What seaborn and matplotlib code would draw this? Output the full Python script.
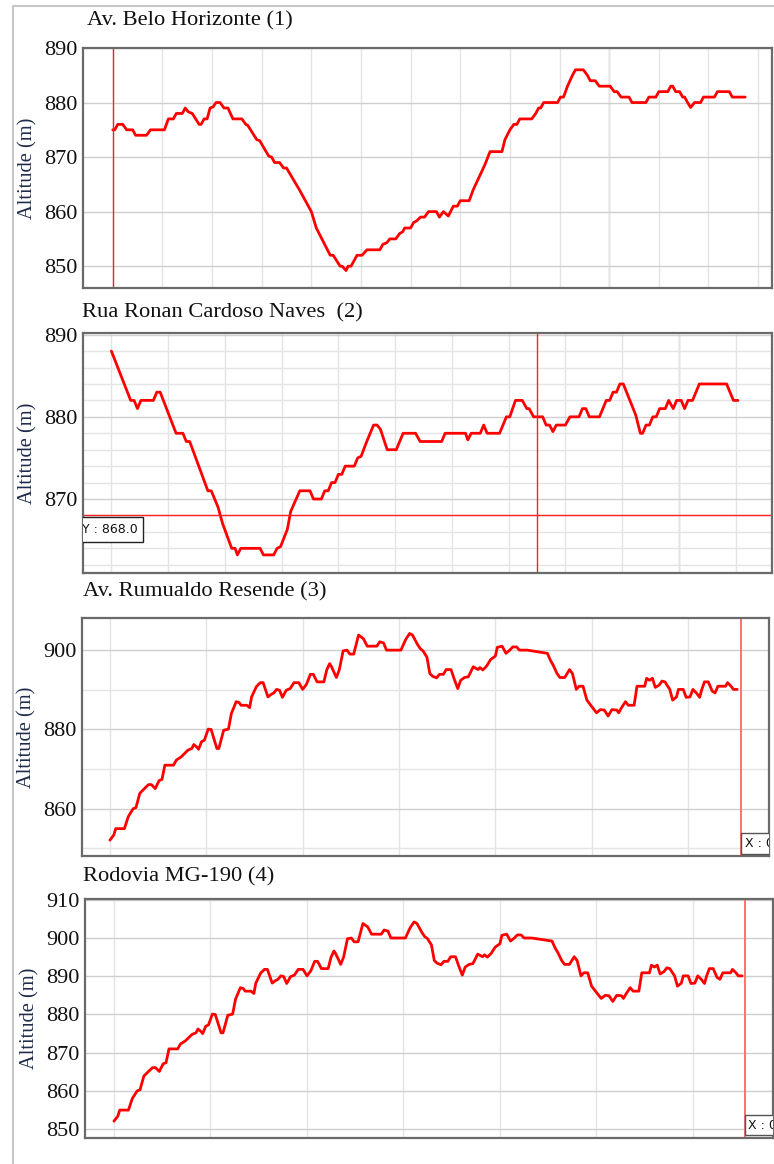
import numpy as np
import pandas as pd
import seaborn as sns
import matplotlib.pyplot as plt
from matplotlib.lines import Line2D
from matplotlib.ticker import MultipleLocator

# Perfil 1 - Av. Belo Horizonte (distancia, altitude)
dist_1 = [0, 2, 5, 10, 14, 20, 23, 34, 38, 52, 56, 61, 64, 70, 73, 76, 80, 87, 89, 92,
          95, 98, 101, 104, 108, 112, 116, 121, 130, 134, 136, 145, 148, 157, 160, 163,
          168, 172, 175, 188, 200, 205, 219, 222, 229, 231, 235, 237, 240, 246, 251,
          256, 269, 272, 276, 279, 285, 289, 292, 294, 300, 303, 306, 310, 314, 318,
          326, 329, 333, 338, 343, 347, 350, 359, 363, 372, 375, 380, 392, 395, 400,
          404, 407, 410, 422, 426, 429, 431, 434, 448, 451, 454, 458, 463, 466, 474,
          478, 481, 486, 490, 501, 505, 508, 512, 520, 523, 537, 540, 547, 550, 559,
          562, 564, 567, 571, 574, 576, 579, 582, 586, 592, 595, 606, 609, 621, 624, 637]
alt_1 = [875, 875, 876, 876, 875, 875, 874, 874, 875, 875, 877, 877, 878, 878, 879, 878.3,
         878, 876, 876, 877, 877, 879, 879.2, 880, 880, 879, 879, 877, 877, 876, 875.8,
         873.2, 873, 870.2, 870, 869, 869, 868, 868, 864, 860, 857, 852, 852, 850, 850,
         849.2, 850, 850, 852, 852, 853, 853, 854, 854.3, 855, 855, 856, 856.3, 857, 857,
         858, 858.3, 859, 859, 860, 860, 859, 860, 859.2, 861, 861, 862, 862, 864, 867.5,
         868.7, 871, 871, 873.2, 875, 876, 876, 877, 877, 878, 879, 879, 880, 880, 881,
         881, 883, 885, 886, 886, 885, 884, 884, 883, 883, 882, 882, 881, 881, 880, 880,
         881, 881, 882, 882, 883, 883, 882, 882, 881, 881, 880, 879.1, 880, 880, 881, 881,
         882, 882, 881, 881]

# Perfil 2 - Rua Ronan Cardoso Naves
dist_2 = [0, 17, 20, 23, 26, 37, 40, 43, 57, 63, 66, 69, 85, 88, 94, 98, 106, 109, 111,
          114, 131, 134, 143, 146, 149, 155, 158, 166, 175, 178, 185, 188, 191, 194, 197,
          200, 203, 206, 214, 217, 220, 225, 231, 234, 237, 243, 251, 257, 268, 272, 291,
          294, 312, 314, 317, 325, 328, 331, 342, 348, 351, 356, 362, 366, 368, 372, 380,
          383, 386, 389, 392, 400, 404, 412, 415, 418, 421, 430, 436, 439, 442, 445, 448,
          451, 462, 466, 468, 471, 474, 477, 480, 483, 488, 491, 495, 498, 502, 505, 508,
          512, 518, 542, 548, 552]
alt_2 = [888, 882, 882, 881, 882, 882, 883, 883, 878, 878, 877, 877, 871, 871, 869, 867,
         864, 864, 863.2, 864, 864, 863.2, 863.2, 864, 864.2, 866.3, 868.5, 871, 871, 870,
         870, 871, 871, 872, 872, 873, 873, 874, 874, 875, 875.2, 877, 879, 879, 878.5,
         876, 876, 878, 878, 877, 877, 878, 878, 877.2, 878, 878, 879, 878, 878, 880, 880,
         882, 882, 881, 881, 880, 880, 879, 879, 878.2, 879, 879, 880, 880, 881, 881, 880,
         880, 882, 882, 883, 883, 884, 884, 880.2, 878, 878, 879, 879, 880, 880, 881, 881,
         882, 881, 882, 882, 881, 882, 882, 884, 884, 882, 882]

# Perfis 3 e 4 - Av. Rumualdo Resende / Rodovia MG-190 (mesmo perfil)
dist_3 = [0, 4, 6, 15, 19, 24, 27, 31, 35, 40, 43, 47, 51, 54, 57, 66, 69, 74, 81, 85, 87,
          90, 92, 95, 98, 102, 105, 111, 113, 118, 123, 126, 131, 134, 136, 142, 145, 147,
          152, 156, 159, 164, 167, 170, 173, 176, 179, 183, 187, 191, 196, 200, 204, 208,
          211, 215, 222, 225, 228, 230, 235, 238, 242, 246, 249, 253, 258, 263, 267, 277,
          280, 284, 287, 302, 307, 311, 314, 319, 322, 325, 329, 332, 335, 339, 342, 346,
          349, 354, 357, 361, 364, 368, 372, 377, 382, 384, 387, 391, 395, 400, 402, 407,
          411, 415, 418, 422, 425, 433, 454, 457, 460, 464, 467, 472, 477, 480, 484, 487,
          491, 495, 499, 505, 509, 513, 517, 521, 526, 528, 531, 535, 538, 544, 547, 555,
          557, 560, 563, 566, 570, 573, 576, 581, 584, 588, 590, 595, 598, 602, 605, 609,
          612, 614, 617, 621, 625, 628, 631, 639, 641, 645, 647, 651]
alt_3 = [852.1, 853.4, 855, 855, 858, 860, 860.3, 863.9, 864.9, 866.1, 866.1, 865.1, 867.1,
         867.4, 871, 871, 872.3, 873.1, 874.8, 875.2, 876.2, 875.6, 875, 876.9, 877.3,
         880.1, 880, 875.2, 875.2, 879.8, 880.1, 884, 887, 886.8, 886.1, 886.1, 885.5,
         888.2, 890.8, 891.8, 891.8, 888.2, 888.8, 889.2, 890.1, 889.9, 888.1, 889.9, 890.3,
         891.8, 891.8, 890.1, 891.4, 893.9, 893.9, 892, 892, 895, 896.6, 895.8, 893.1, 895,
         899.8, 900, 899, 899, 903.8, 902.9, 901, 901, 902.1, 901.8, 900, 900, 902.7, 904.2,
         903.8, 901.5, 900.4, 899.8, 898.2, 894.1, 893.4, 893, 893.9, 893.9, 895.1, 895.1,
         892.9, 890.3, 892.4, 893.1, 893.3, 895.8, 895.1, 895.6, 895, 896, 897.6, 898.5,
         900.7, 901, 899.2, 900, 900.8, 900.8, 900, 900, 899.2, 897.5, 896.2, 894.1, 893.1,
         893.1, 895.1, 894.1, 890.1, 890.9, 890.9, 887.4, 886.1, 884.2, 885, 884.9, 883.4,
         885, 884.9, 884.2, 885.5, 887, 886.1, 886.1, 890.9, 890.9, 892.9, 892.4, 892.9,
         890.6, 891.2, 892.2, 892, 890.1, 887.4, 888.2, 890.1, 890.1, 888.1, 888.2, 890.1,
         889.1, 888.1, 889.9, 892, 892, 889.7, 889.2, 890.9, 890.9, 891.8, 890.8, 890.1,
         890.1]

titles = ["Av. Belo Horizonte (1)", "Rua Ronan Cardoso Naves  (2)",
          "Av. Rumualdo Resende (3)", "Rodovia MG-190 (4)"]

sns.set_style("white")
plt.rcParams["font.family"] = ["Liberation Serif", "DejaVu Serif"]

W, H = 774, 1164
fig = plt.figure(figsize=(W / 100, H / 100), dpi=100)


def px_axes(left, top, right, bottom):
    return fig.add_axes([left / W, 1 - bottom / H, (right - left) / W, (bottom - top) / H])


def style_axes(ax, xlim, ylim, yticks, ygrid, xgrid):
    ax.set_xlim(*xlim)
    ax.set_ylim(*ylim)
    ax.set_yticks(yticks)
    ax.set_xticks([])
    ax.xaxis.set_minor_locator(MultipleLocator(xgrid))
    ax.yaxis.set_minor_locator(MultipleLocator(ygrid))
    ax.grid(which="minor", color="#e4e4e4", linewidth=1.0)
    ax.grid(which="major", axis="y", color="#cfcfcf", linewidth=1.0)
    ax.set_axisbelow(True)
    ax.tick_params(axis="y", which="both", length=0, pad=4, labelsize=16,
                   labelcolor="#111111")
    ax.set_xlabel("")
    ax.set_ylabel("Altitude (m)", fontsize=14.8, color="#1e2b4a")
    ax.yaxis.set_label_coords(-0.066, 0.5)
    for sp in ax.spines.values():
        sp.set_color("#6a6a6a")
        sp.set_linewidth(1.6)


line_kw = dict(color="#ff0000", linewidth=2.0, estimator=None, sort=False)

# painel 1
ax1 = px_axes(83, 48, 772, 288)
sns.lineplot(x=dist_1, y=alt_1, ax=ax1, **line_kw)
style_axes(ax1, (-30, 664), (846, 890), [850, 860, 870, 880, 890], 10, 50)
ax1.axvline(0, color="#ff2020", linewidth=1.0)
ax1.axvline(500, color="#c4c4c4", linewidth=1.0, zorder=0.5)

# painel 2
ax2 = px_axes(83, 333, 772, 573)
sns.lineplot(x=dist_2, y=alt_2, ax=ax2, **line_kw)
style_axes(ax2, (-25, 582), (861, 890.2), [870, 880, 890], 2, 50)
ax2.axvline(500, color="#c4c4c4", linewidth=1.0, zorder=0.5)
ax2.axvline(375, color="#ff2020", linewidth=1.0)
ax2.axhline(868, color="#ff2020", linewidth=1.0)
ax2.annotate("Y : 868.0", xy=(-25, 868), xytext=(-1, -5.5), textcoords="offset points",
             ha="left", va="top", fontsize=9, family=["DejaVu Sans"], color="#111111",
             clip_on=True,
             bbox=dict(boxstyle="square,pad=0.45", fc="white", ec="#222222", lw=1.0))

# painel 3
ax3 = px_axes(82, 618, 769, 856)
sns.lineplot(x=dist_3, y=alt_3, ax=ax3, **line_kw)
style_axes(ax3, (-29, 684), (848.1, 908.1), [860, 880, 900], 10, 100)
ax3.axvline(655, color="#ff7070", linewidth=1.4)
ax3.annotate("X : 0.0", xy=(655, 848.1), xytext=(2.5, 4.5), textcoords="offset points",
             ha="left", va="bottom", fontsize=9, family=["DejaVu Sans"], color="#111111",
             clip_on=True,
             bbox=dict(boxstyle="square,pad=0.3", fc="white", ec="#555555", lw=1.0))

# painel 4
ax4 = px_axes(85, 899, 773, 1138)
sns.lineplot(x=dist_3, y=alt_3, ax=ax4, **line_kw)
style_axes(ax4, (-30, 683), (847.7, 910.2), [850, 860, 870, 880, 890, 900, 910], 10, 100)
ax4.axvline(654, color="#ff7070", linewidth=1.4)
ax4.annotate("X : 0.0", xy=(654, 847.7), xytext=(2.5, 4.5), textcoords="offset points",
             ha="left", va="bottom", fontsize=9, family=["DejaVu Sans"], color="#111111",
             clip_on=True,
             bbox=dict(boxstyle="square,pad=0.3", fc="white", ec="#555555", lw=1.0))

# titulos
for (tx, ty), t in zip([(87, 21), (82, 313), (83, 592), (83, 877)], titles):
    fig.text(tx / W, 1 - ty / H, t, ha="left", va="center", fontsize=16.2, color="#111111")

# moldura da janela
fig.add_artist(Line2D([13 / W, 13 / W], [0, 1 - 6 / H], color="#c8c8c8", linewidth=1.5))
fig.add_artist(Line2D([13 / W, 1], [1 - 6 / H, 1 - 6 / H], color="#c8c8c8", linewidth=1.5))

fig.savefig("out.png", dpi=100)
